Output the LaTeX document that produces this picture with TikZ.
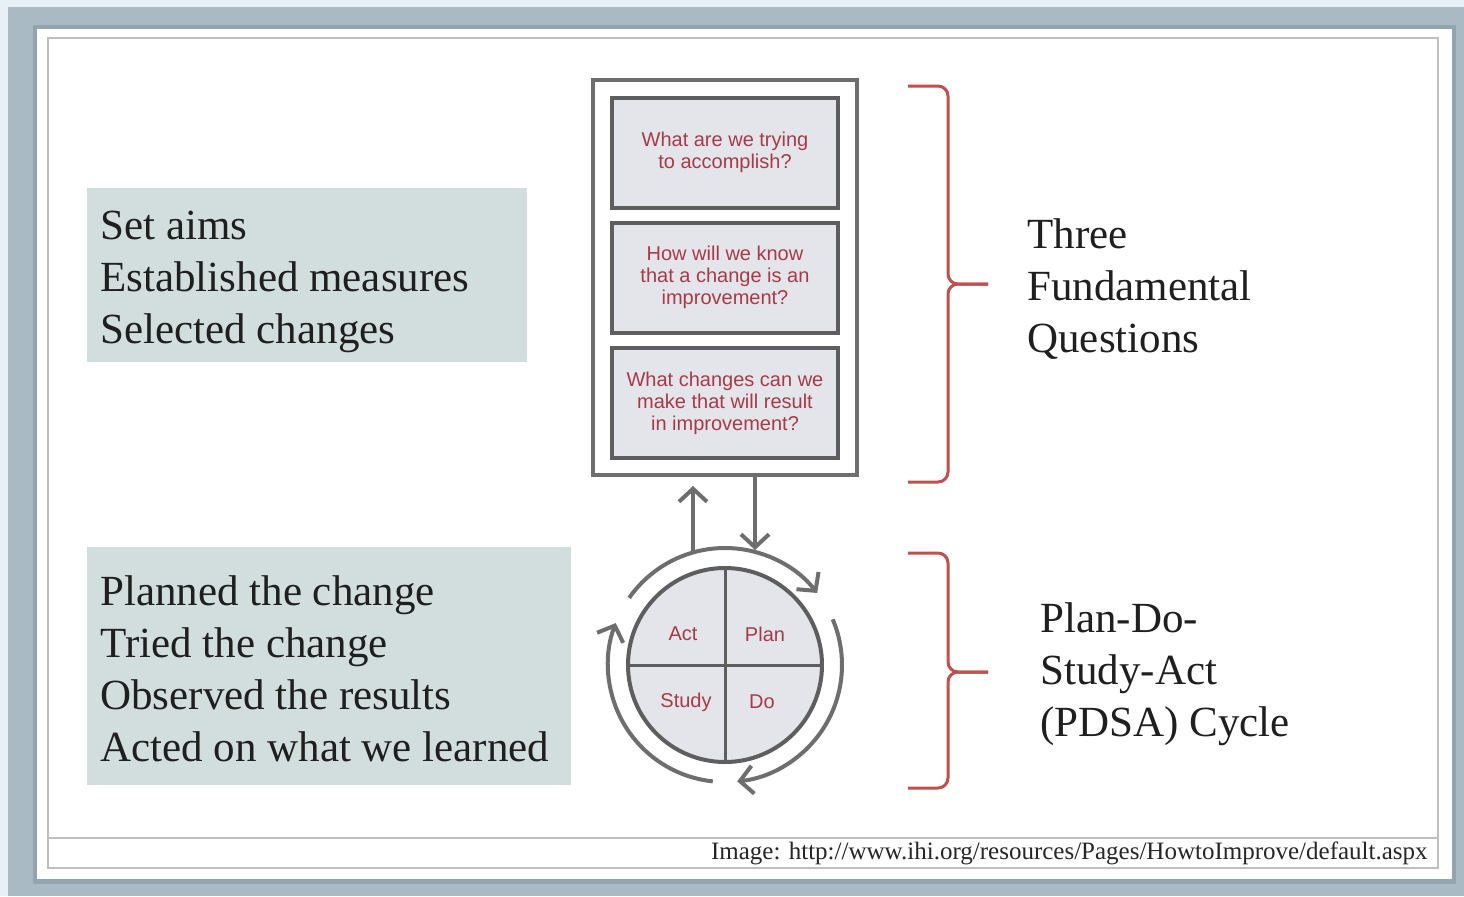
\documentclass[tikz,border=0pt]{standalone}
\usepackage{fontspec}
\setmainfont{Liberation Serif}
\newfontfamily\qfont{Liberation Sans}
\usetikzlibrary{arrows.meta,calc}
\definecolor{fondo}{HTML}{E8EFF5}
\definecolor{marco}{HTML}{A9BAC5}
\definecolor{sombra}{HTML}{93A4AE}
\definecolor{caja}{HTML}{D2DEDE}
\definecolor{celda}{HTML}{E3E5EA}
\definecolor{borde}{HTML}{5E5E5E}
\definecolor{rojo}{HTML}{A83A47}
\definecolor{llave}{HTML}{C0504D}
\begin{document}
\begin{tikzpicture}[x=0.5pt,y=-0.5pt,
    lista/.style={fill=caja, anchor=north west, inner sep=0pt},
    titulo/.style={anchor=north west, align=left, inner sep=0pt,
      text=black!88, font=\fontsize{21.5}{26}\selectfont},
    pregunta/.style={draw=borde, fill=celda, line width=2pt, minimum width=113pt, minimum height=55pt,
      align=center, text=rojo, font=\qfont\fontsize{10}{11}\selectfont},
    fase/.style={text=rojo, font=\qfont\fontsize{10}{11}\selectfont},
    giro/.style={draw=borde!90, line width=2pt, -{Straight Barb[length=6.5pt,width=14pt]}},
    llaves/.style={draw=llave, line width=1.5pt, rounded corners=5pt}]
    % Fondo y marco
    \fill[fondo] (0,0) rectangle (1464,896);
    \fill[marco] (8,7) rectangle (1464,896);
    \fill[sombra] (33,25) rectangle (1456,884);
    \fill[white] (37,29) rectangle (1452,879);
    \draw[black!25, line width=1pt] (48,38) rectangle (1438,868);
    \draw[black!25, line width=1pt] (48,838) -- (1438,838);
    % Listas de la izquierda
    \node[lista, minimum width=220pt, minimum height=87pt] (pasos) at (87,188) {};
    \node[titulo] (pasos txt) at (100,211) {Set aims\\Established measures\\Selected changes};
    \node[lista, minimum width=242pt, minimum height=119pt] (hechos) at (87,547) {};
    \node[titulo] (hechos txt) at (100,575)
        {Planned the change\\Tried the change\\Observed the results\\Acted on what we learned};
    % Preguntas
    \node[draw=borde!90, line width=2pt, minimum width=132pt, minimum height=197.5pt] (qbox) at (725,277.5) {};
    \node[pregunta] (q1) at (725,152.5) {What are we trying\\to accomplish?};
    \node[pregunta] (q2) at (725,277.5) {How will we know\\that a change is an\\improvement?};
    \node[pregunta] (q3) at (725,403) {What changes can we\\make that will result\\in improvement?};
    % Ciclo
    \node[circle, draw=borde, fill=celda, line width=2pt, minimum size=97pt, inner sep=0pt] (ciclo) at (725,665) {};
    \draw[borde, line width=1.5pt] (ciclo.north) -- (ciclo.south);
    \draw[borde, line width=1.5pt] (ciclo.west) -- (ciclo.east);
    \node[fase] (act) at (683,634) {Act};
    \node[fase] (plan) at (765,634) {Plan};
    \node[fase] (study) at (686,702) {Study};
    \node[fase] (do) at (762,702) {Do};
    \draw[giro] ($(ciclo)+(-145:117)$) arc[start angle=-145, end angle=-38, radius=117];
    \draw[giro] ($(ciclo)+(-23:117)$) arc[start angle=-23, end angle=84, radius=117];
    \draw[giro] ($(ciclo)+(96:117)$) arc[start angle=96, end angle=201, radius=117];
    % Flechas entre preguntas y ciclo
    \coordinate (tope) at ($(qbox.south)+(0,9)$);
    \coordinate (sube) at ($(ciclo)+(-32,-112.5)$);
    \coordinate (baja) at ($(ciclo)+(30,-115)$);
    \draw[giro] (sube) -- (sube |- tope);
    \draw[giro] (baja |- qbox.south) -- (baja);
    % Llaves
    \draw[llaves] (908,86) -- (948,86) -- (948,284) -- (988,284);
    \draw[llaves] (908,482) -- (948,482) -- (948,284) -- (988,284);
    \draw[llaves] (908,553) -- (948,553) -- (948,672) -- (988,672);
    \draw[llaves] (908,788) -- (948,788) -- (948,672) -- (988,672);
    % Textos de la derecha
    \node[titulo] (tfq) at (1027,218) {Three\\Fundamental\\Questions};
    \node[titulo] (pdsa) at (1040,602) {Plan-Do-\\Study-Act\\(PDSA) Cycle};
    % Fuente
    \node[anchor=east, inner sep=0pt, text=black!85, font=\fontsize{12.5}{14}\selectfont] (fuente) at (1428,853)
        {Image: http://www.ihi.org/resources/Pages/HowtoImprove/default.aspx};
\end{tikzpicture}
\end{document}
